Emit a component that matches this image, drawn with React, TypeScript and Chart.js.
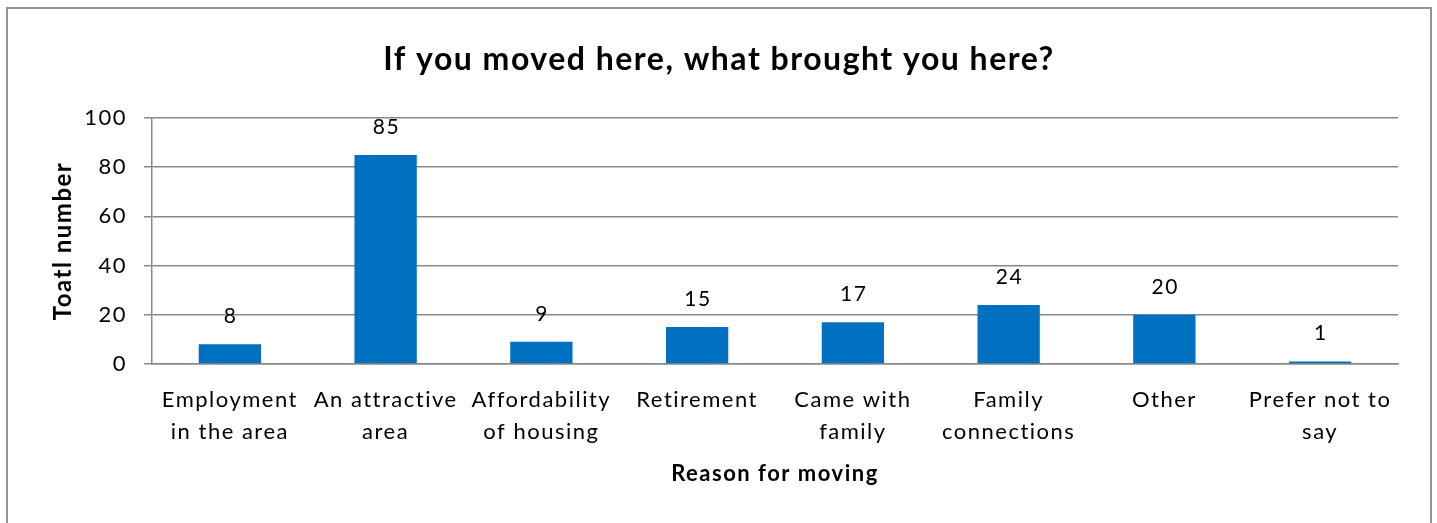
import React, { useEffect, useRef } from "react";
import { Chart, registerables } from "chart.js";

Chart.register(...registerables);

const categories: string[][] = [
  ["Employment", "in the area"],
  ["An attractive", "area"],
  ["Affordability", "of housing"],
  ["Retirement"],
  ["Came with", "family"],
  ["Family", "connections"],
  ["Other"],
  ["Prefer not to", "say"],
];
const values: number[] = [8, 85, 9, 15, 17, 24, 20, 1];
const yTicks: number[] = [0, 20, 40, 60, 80, 100];
const titleText = "If you moved here, what brought you here?";
const xTitle = "Reason for moving";
const yTitle = "Toatl number";

const FONT = "Lato, 'Open Sans', sans-serif";
const GRID = "#898989";
const SPACING = "1.5px";

const letterSpacing = {
  id: "letterSpacing",
  beforeUpdate(chart: any) {
    chart.ctx.letterSpacing = SPACING;
  },
  beforeDraw(chart: any) {
    chart.ctx.letterSpacing = SPACING;
  },
};

const dataLabels = {
  id: "dataLabels",
  afterDatasetsDraw(chart: any) {
    const ctx = chart.ctx;
    const meta = chart.getDatasetMeta(0);
    ctx.save();
    ctx.font = `21px ${FONT}`;
    ctx.fillStyle = "#000";
    ctx.textAlign = "center";
    ctx.textBaseline = "middle";
    meta.data.forEach((bar: any, i: number) => {
      ctx.fillText(String(values[i]), bar.x + 0.75, bar.y - 28);
    });
    ctx.restore();
  },
};

export default function App() {
  const ref = useRef<HTMLCanvasElement>(null);
  useEffect(() => {
    if (!ref.current) return;
    const chart = new Chart(ref.current, {
      type: "bar",
      data: {
        labels: categories,
        datasets: [
          {
            data: values,
            backgroundColor: "#0070C0",
            borderWidth: 0,
            barPercentage: 0.4,
            categoryPercentage: 1,
          },
        ],
      },
      options: {
        responsive: false,
        animation: false,
        layout: { padding: { left: 40, right: 39, top: 0, bottom: 0 } },
        plugins: {
          legend: { display: false },
          tooltip: { enabled: false },
          title: {
            display: true,
            text: titleText,
            color: "#000",
            font: { family: FONT, size: 32, weight: "bold", lineHeight: 1.2 },
            padding: { top: 40, bottom: 39.6 },
          },
        },
        scales: {
          x: {
            grid: { display: false, drawTicks: false },
            border: { display: true, color: GRID, width: 1.5 },
            ticks: {
              color: "#000",
              font: { family: FONT, size: 22, lineHeight: 32 / 22 },
              padding: 20,
              maxRotation: 0,
              autoSkip: false,
            },
            title: {
              display: true,
              text: xTitle,
              color: "#000",
              font: { family: FONT, size: 22, weight: "bold", lineHeight: 1.2 },
              padding: { top: 0, bottom: 36 },
            },
            afterFit(scale: any) {
              scale.height = 159;
            },
          },
          y: {
            min: 0,
            max: 100,
            afterBuildTicks(scale: any) {
              scale.ticks = yTicks.map((v) => ({ value: v }));
            },
            grid: { color: GRID, lineWidth: 1.5, tickLength: 8, drawTicks: true },
            border: { display: true, color: GRID, width: 1.5 },
            ticks: {
              color: "#000",
              font: { family: FONT, size: 22 },
              padding: 17,
            },
            title: {
              display: true,
              text: yTitle,
              color: "#000",
              font: { family: FONT, size: 24, weight: "bold", lineHeight: 1.2 },
              padding: { top: 9, bottom: 0 },
            },
            afterFit(scale: any) {
              scale.width = 112;
            },
          },
        },
      },
      plugins: [letterSpacing, dataLabels],
    });
    return () => chart.destroy();
  }, []);

  return (
    <div
      style={{
        position: "fixed",
        left: 0,
        top: 0,
        width: 1437,
        height: 523,
        overflow: "hidden",
        background: "#fff",
      }}
    >
      <div
        style={{
          position: "absolute",
          left: 6,
          top: 7,
          width: 1426,
          height: 600,
          boxSizing: "border-box",
          border: "2px solid #939393",
        }}
      />
      <canvas
        ref={ref}
        width={1437}
        height={523}
        style={{ position: "absolute", left: 0, top: 0, width: 1437, height: 523 }}
      />
    </div>
  );
}
